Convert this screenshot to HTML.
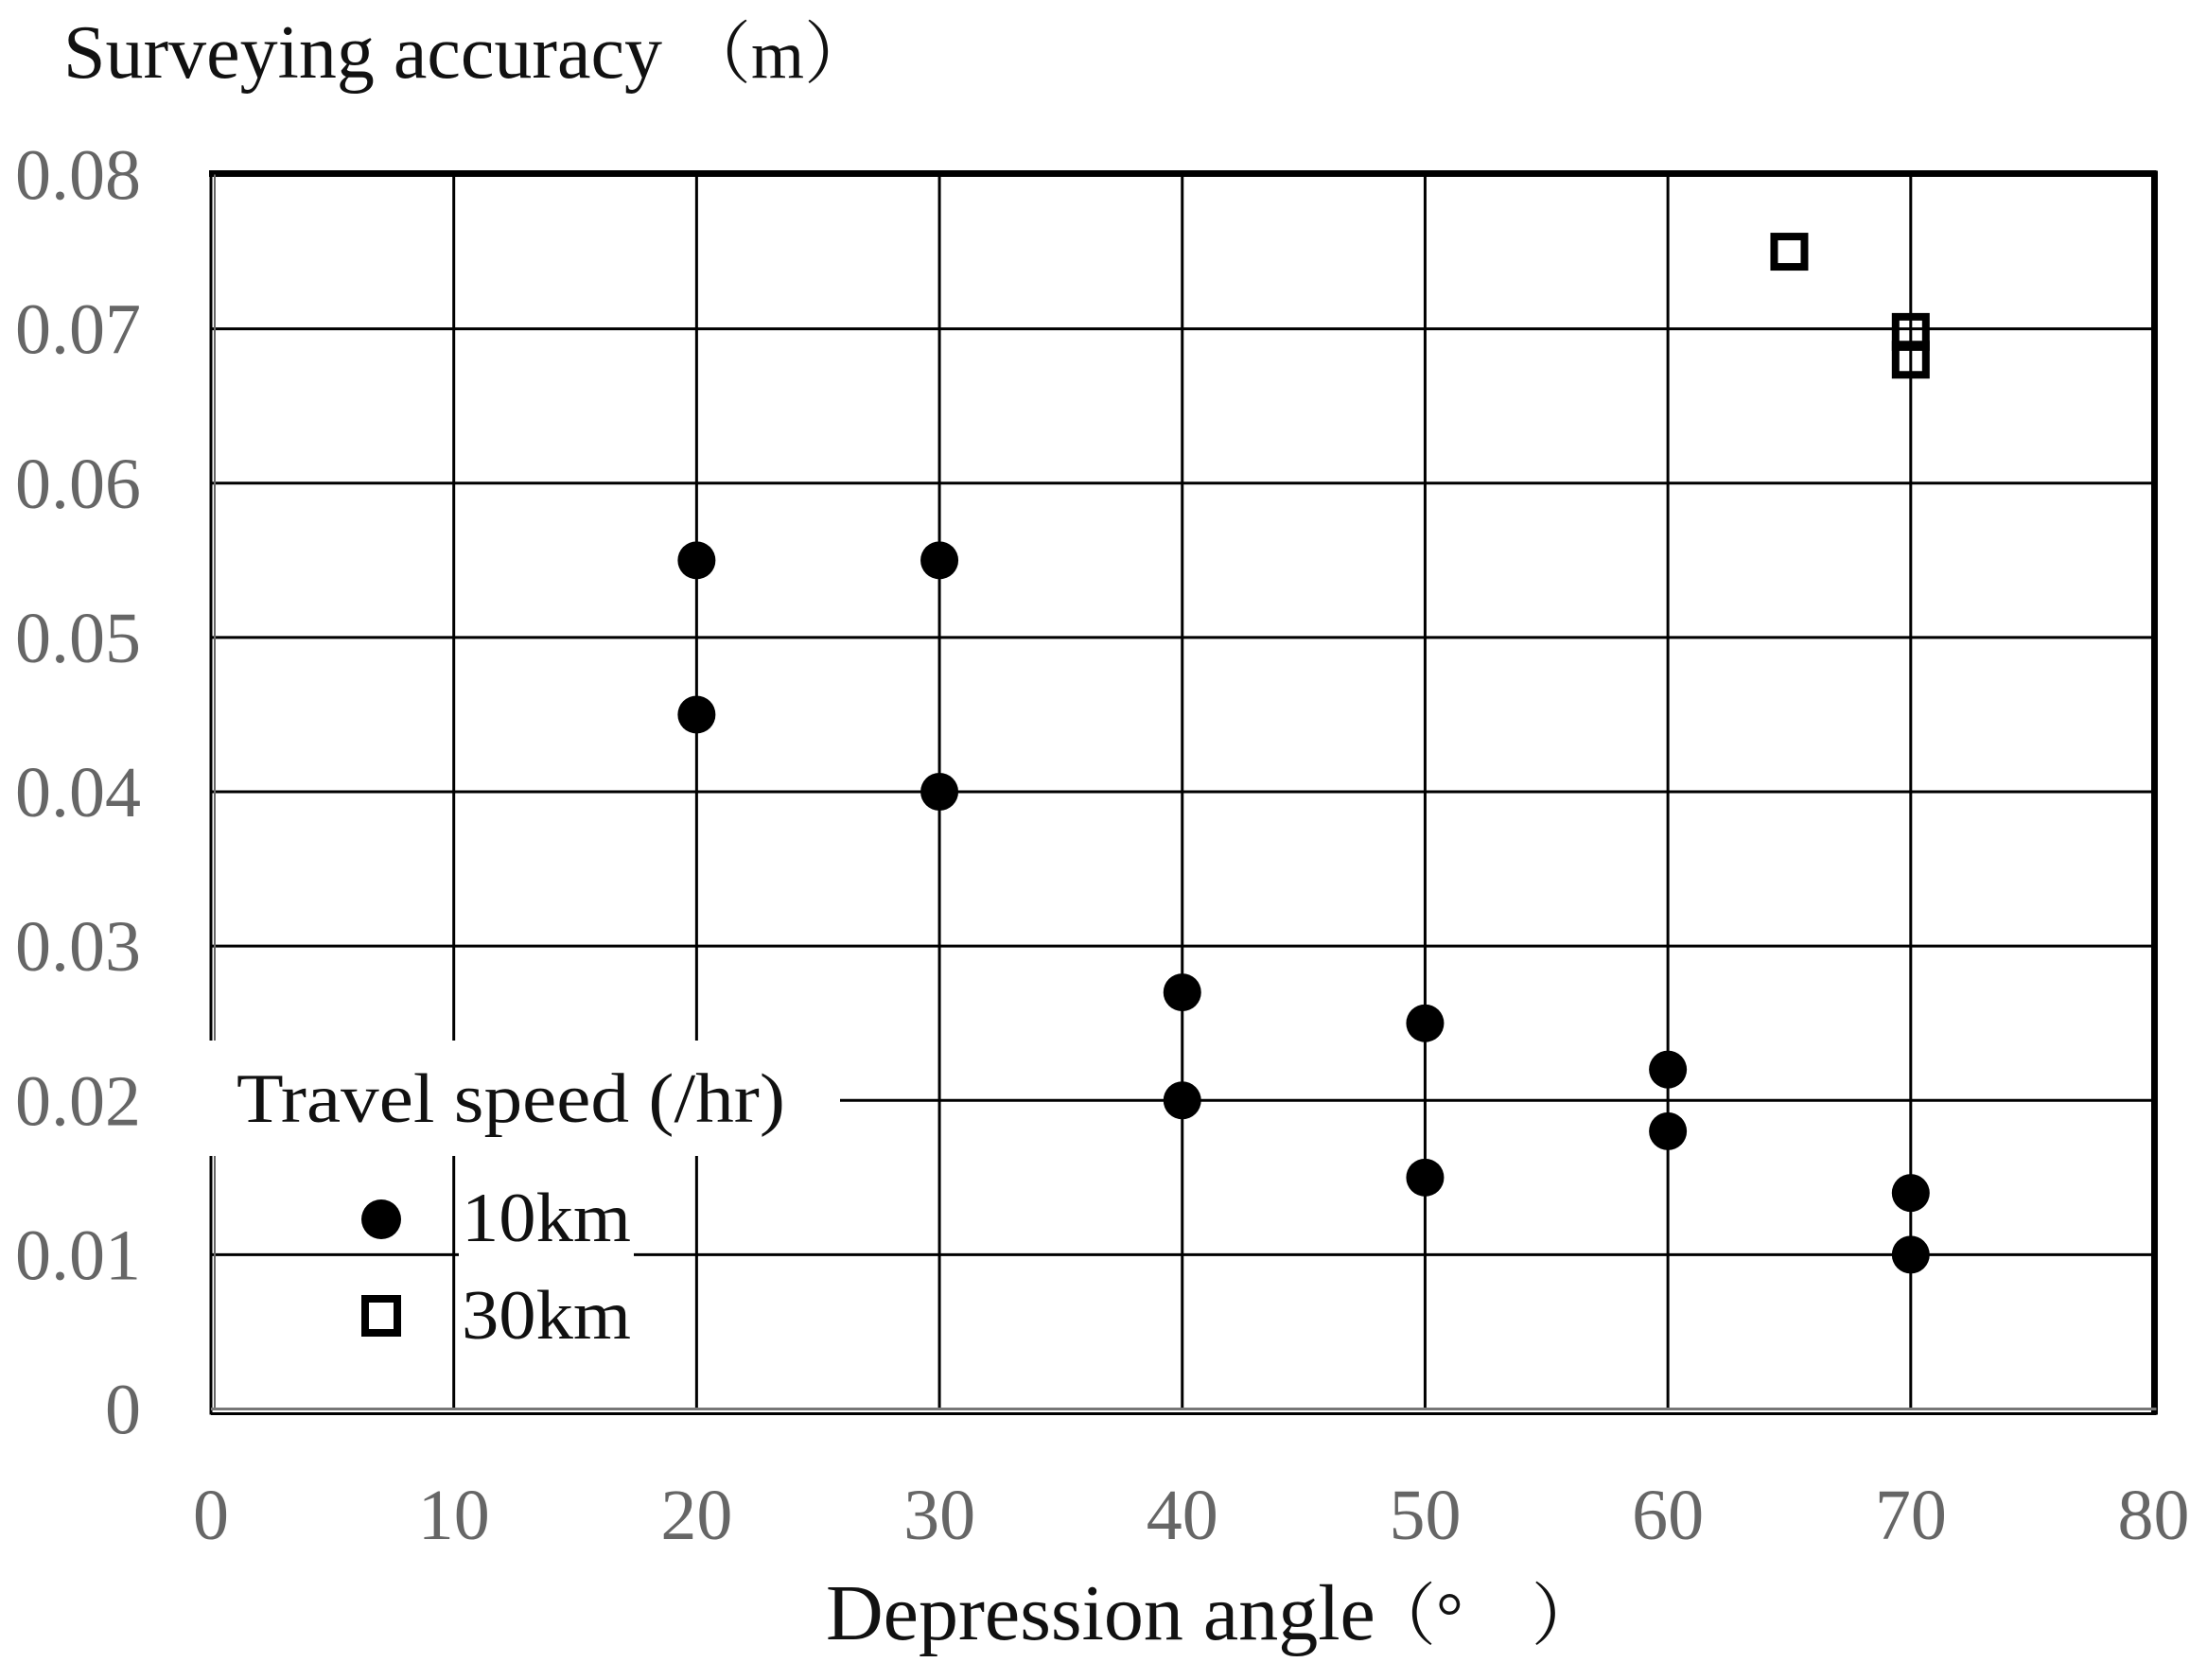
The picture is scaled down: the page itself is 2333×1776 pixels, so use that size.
<!DOCTYPE html>
<html><head><meta charset="utf-8"><style>
html,body{margin:0;padding:0;background:#fff;}
svg{display:block;font-family:"Liberation Serif","Noto Serif CJK SC",serif;}
</style></head><body>
<svg id="chart" width="2333" height="1776" viewBox="0 0 2333 1776">
<g id="grid"></g>
<g id="frame"></g>
<g id="yticks"></g>
<g id="xticks"></g>
<g>
<text x="67" y="82" font-size="80" fill="#111">Surveying accuracy</text>
<text x="722" y="82" font-size="72" fill="#111">（m）</text>
</g>
<g>
<text x="873" y="1733" font-size="84" fill="#111">Depression angle</text>
<text x="1446" y="1733" font-size="72" fill="#111">（°　）</text>
</g>
<g id="legend">
<rect x="218" y="1100" width="670" height="122" fill="#fff"/>
<rect x="485" y="1262" width="185" height="68" fill="#fff"/>
<text x="250" y="1186" font-size="74" fill="#111" textLength="580" lengthAdjust="spacingAndGlyphs">Travel speed (/hr)</text>
<circle cx="403" cy="1289" r="21" fill="#000"/>
<text x="488" y="1312" font-size="74" fill="#111" textLength="179" lengthAdjust="spacingAndGlyphs">10km</text>
<rect x="386" y="1373" width="34" height="36" fill="none" stroke="#000" stroke-width="8"/>
<text x="488" y="1415" font-size="74" fill="#111" textLength="179" lengthAdjust="spacingAndGlyphs">30km</text>
</g>
<g id="marks"></g>
</svg>
<script>
const xTicks = [0,10,20,30,40,50,60,70,80];
const yTicks = [0,0.01,0.02,0.03,0.04,0.05,0.06,0.07,0.08];
const yTickLabels = ["0","0.01","0.02","0.03","0.04","0.05","0.06","0.07","0.08"];
const speed10X = [20,20,30,30,40,40,50,50,60,60,70,70];
const speed10Y = [0.055,0.045,0.055,0.040,0.027,0.020,0.025,0.015,0.022,0.018,0.014,0.010];
const speed30X = [65,70,70];
const speed30Y = [0.075,0.0698,0.068];

const NS="http://www.w3.org/2000/svg";
const L=223,R=2276.5,T=184.5,B=1489.5;
function xs(v){return L+(v-0)/(80-0)*(R-L);}
function ys(v){return B-(v-0)/(0.08-0)*(B-T);}
function mk(tag,attrs,parent){const e=document.createElementNS(NS,tag);for(const k in attrs)e.setAttribute(k,attrs[k]);parent.appendChild(e);return e;}

const grid=document.getElementById('grid');
xTicks.forEach(v=>{if(v===0||v===80)return;
  const l=mk('line',{x1:xs(v),x2:xs(v),y1:T,y2:B,stroke:'#000','stroke-width':3},grid);
  
  });
yTicks.forEach(v=>{if(v===0||v===0.08)return;
  const l=mk('line',{x1:L,x2:R,y1:ys(v),y2:ys(v),stroke:'#000','stroke-width':3},grid);
  
  });

const fr=document.getElementById('frame');
let e;
e=mk('line',{x1:L-2,x2:R+3,y1:T-1,y2:T-1,stroke:'#000','stroke-width':7},fr);


e=mk('line',{x1:R+1,x2:R+1,y1:T-4,y2:B+6,stroke:'#000','stroke-width':7},fr);


e=mk('line',{x1:L,x2:L,y1:T-4,y2:B+6,stroke:'#000','stroke-width':3},fr);


e=mk('line',{x1:L+4,x2:L+4,y1:T,y2:B,stroke:'#666','stroke-width':2},fr);


e=mk('line',{x1:L,x2:R+3,y1:B,y2:B,stroke:'#777','stroke-width':3},fr);


e=mk('line',{x1:L,x2:R+3,y1:B+5,y2:B+5,stroke:'#000','stroke-width':3},fr);



const yt=document.getElementById('yticks');
yTicks.forEach((v,i)=>{const t=mk('text',{x:149,y:ys(v)+26,'font-size':76,fill:'#666','text-anchor':'end'},yt);
  t.textContent=yTickLabels[i];
  
  });
const xt=document.getElementById('xticks');
xTicks.forEach(v=>{const t=mk('text',{x:xs(v),y:1627,'font-size':76,fill:'#666','text-anchor':'middle'},xt);
  t.textContent=String(v);
  
  });

const marks=document.getElementById('marks');
speed10X.forEach((x,i)=>{const c=mk('circle',{cx:xs(x),cy:ys(speed10Y[i]),r:20,fill:'#000'},marks);
  
  });
speed30X.forEach((x,i)=>{const r=mk('rect',{x:xs(x)-16,y:ys(speed30Y[i])-16,width:32,height:32,fill:'none',stroke:'#000','stroke-width':8},marks);
  
  });
</script>
</body></html>
